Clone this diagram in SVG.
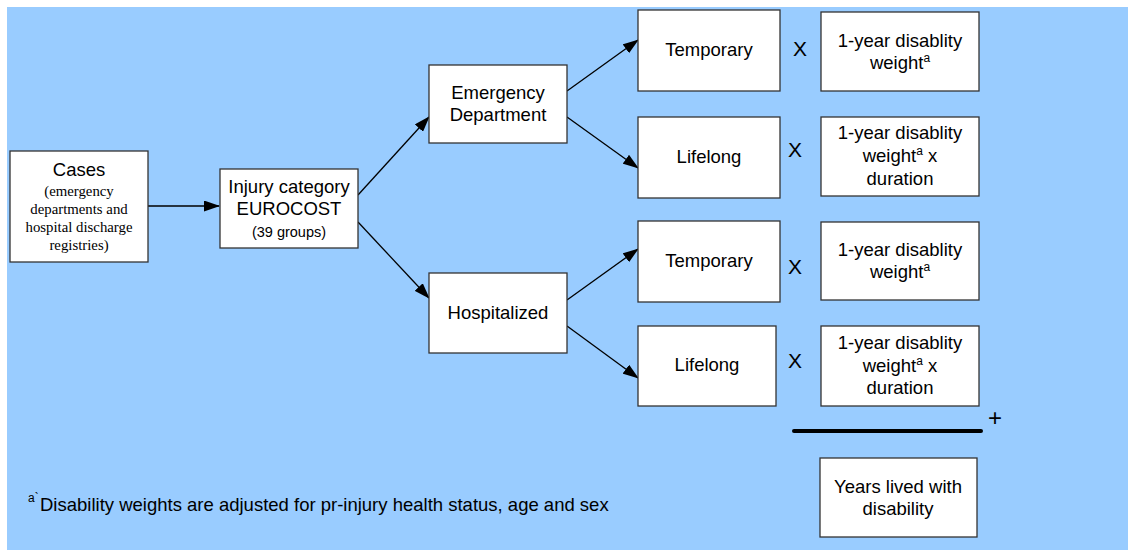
<svg xmlns="http://www.w3.org/2000/svg" width="1128" height="550" viewBox="0 0 1128 550">
<defs>
<style>
.bx{fill:#fff;stroke:#333;stroke-width:1.3}
.t{font-family:"Liberation Sans",Arial,sans-serif;font-size:18.5px;fill:#000;text-anchor:middle}
.s{font-family:"Liberation Serif","Times New Roman",serif;font-size:14.8px;fill:#000;text-anchor:middle}
.c{stroke:#000;stroke-width:1.3;fill:none}
.x{font-family:"Liberation Sans",Arial,sans-serif;font-size:21px;fill:#000;text-anchor:middle}
</style>
<marker id="ah" markerWidth="16" markerHeight="11" refX="15" refY="5.5" orient="auto" markerUnits="userSpaceOnUse">
<path d="M0,0 L16,5.5 L0,11 z" fill="#000"/>
</marker>
</defs>
<rect x="7" y="7" width="1121" height="543" fill="#99ccff"/>
<g id="connectors">
<line class="c" x1="148" y1="206" x2="219" y2="206" marker-end="url(#ah)"/>
<line class="c" x1="358" y1="195" x2="429" y2="117" marker-end="url(#ah)"/>
<line class="c" x1="358" y1="222" x2="429" y2="298" marker-end="url(#ah)"/>
<line class="c" x1="567" y1="91" x2="638" y2="40" marker-end="url(#ah)"/>
<line class="c" x1="567" y1="117" x2="638" y2="168" marker-end="url(#ah)"/>
<line class="c" x1="567" y1="300" x2="638" y2="249" marker-end="url(#ah)"/>
<line class="c" x1="567" y1="326" x2="638" y2="378" marker-end="url(#ah)"/>
</g>
<g id="cases">
<rect class="bx" x="10" y="151" width="138" height="111"/>
<text class="t" x="79" y="176">Cases</text>
<text class="s" x="79" y="196">(emergency</text>
<text class="s" x="79" y="214">departments and</text>
<text class="s" x="79" y="232">hospital discharge</text>
<text class="s" x="79" y="250">registries)</text>
</g>
<g id="injury">
<rect class="bx" x="220" y="169" width="138" height="79"/>
<text class="t" x="289" y="193">Injury category</text>
<text class="t" x="289" y="215">EUROCOST</text>
<text class="t" x="289" y="237" style="font-size:14.5px">(39 groups)</text>
</g>
<g id="ed">
<rect class="bx" x="429" y="65" width="138" height="78"/>
<text class="t" x="498" y="99">Emergency</text>
<text class="t" x="498" y="121">Department</text>
</g>
<g id="hosp">
<rect class="bx" x="429" y="273" width="138" height="80"/>
<text class="t" x="498" y="319">Hospitalized</text>
</g>
<g id="temp1">
<rect class="bx" x="638" y="10" width="142" height="81"/>
<text class="t" x="709" y="56">Temporary</text>
</g>
<g id="life1">
<rect class="bx" x="638" y="117" width="142" height="81"/>
<text class="t" x="709" y="163">Lifelong</text>
</g>
<g id="temp2">
<rect class="bx" x="638" y="221" width="142" height="81"/>
<text class="t" x="709" y="267">Temporary</text>
</g>
<g id="life2">
<rect class="bx" x="638" y="326" width="138" height="80"/>
<text class="t" x="707" y="371">Lifelong</text>
</g>
<g id="ops">
<text class="x" x="800" y="56">X</text>
<text class="x" x="795" y="157">X</text>
<text class="x" x="795" y="274">X</text>
<text class="x" x="795" y="368">X</text>
<text class="x" x="995" y="426" style="font-size:24px">+</text>
<line x1="794" y1="431" x2="981" y2="431" stroke="#000" stroke-width="4" stroke-linecap="round"/>
</g>
<g id="w1">
<rect class="bx" x="821" y="12" width="158" height="79"/>
<text class="t" x="900" y="47">1-year disablity</text>
<text class="t" x="900" y="69">weight<tspan dy="-7" font-size="12">a</tspan></text>
</g>
<g id="w2">
<rect class="bx" x="821" y="117" width="158" height="79"/>
<text class="t" x="900" y="139">1-year disablity</text>
<text class="t" x="900" y="162">weight<tspan dy="-7" font-size="12">a</tspan><tspan dy="7"> x</tspan></text>
<text class="t" x="900" y="185">duration</text>
</g>
<g id="w3">
<rect class="bx" x="821" y="222" width="158" height="78"/>
<text class="t" x="900" y="256">1-year disablity</text>
<text class="t" x="900" y="278">weight<tspan dy="-7" font-size="12">a</tspan></text>
</g>
<g id="w4">
<rect class="bx" x="821" y="326" width="158" height="80"/>
<text class="t" x="900" y="349">1-year disablity</text>
<text class="t" x="900" y="372">weight<tspan dy="-7" font-size="12">a</tspan><tspan dy="7"> x</tspan></text>
<text class="t" x="900" y="394">duration</text>
</g>
<g id="yld">
<rect class="bx" x="820" y="458" width="157" height="79"/>
<text class="t" x="898" y="493">Years lived with</text>
<text class="t" x="898" y="515">disability</text>
</g>
<g id="footnote">
<text x="28" y="502" style="font-family:'Liberation Sans',Arial,sans-serif;font-size:12px">a`</text>
<text x="40" y="511" style="font-family:'Liberation Sans',Arial,sans-serif;font-size:18.5px">Disability weights are adjusted for pr-injury health status, age and sex</text>
</g>
</svg>
